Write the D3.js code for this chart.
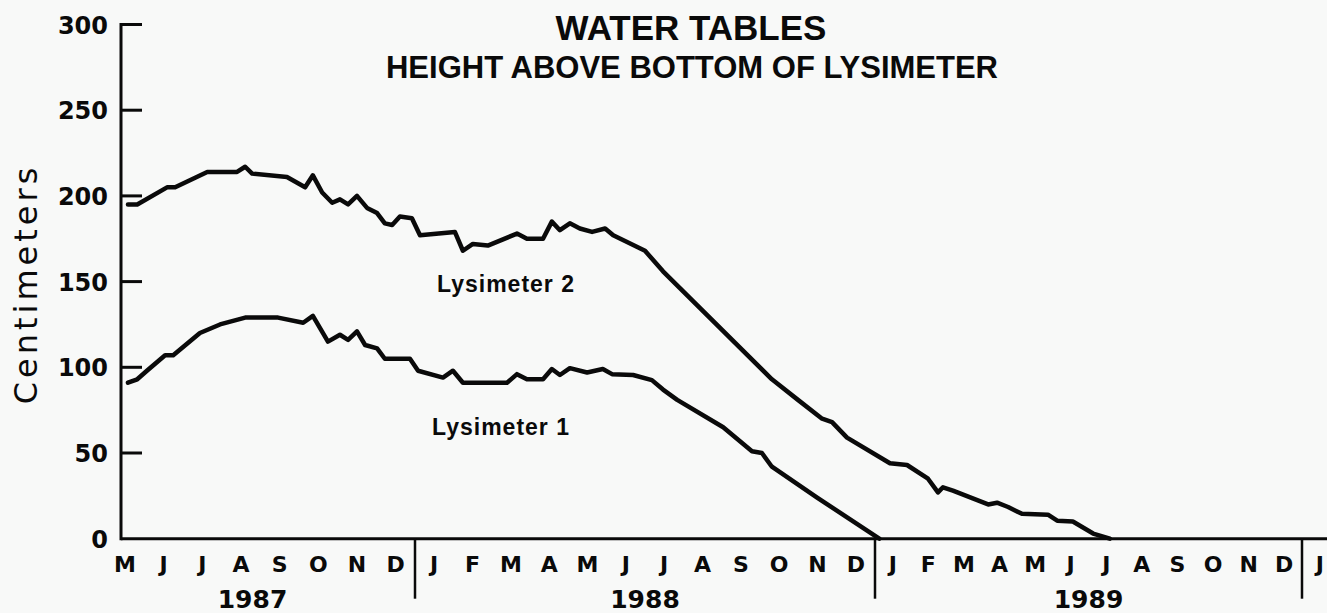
<!DOCTYPE html>
<html>
<head>
<meta charset="utf-8">
<script src="https://cdn.jsdelivr.net/npm/d3@7"></script>
<style>
    body { margin: 0; background: #f8f9f8; }
    svg { display: block; }
</style>
</head>
<body>
<div id="chart-container"></div>
<script>
'use strict'

// months counted from Jan 1987 (0 = Jan 1 1987)
var lys2Month = [4.58, 4.82, 5.59, 5.80, 6.63, 7.40, 7.61, 7.79, 8.69, 9.16, 9.36, 9.60, 9.86, 10.06,
    10.27, 10.50, 10.76, 11.02, 11.22, 11.41, 11.61, 11.92, 12.13, 13.04, 13.25, 13.51, 13.90, 14.66,
    14.92, 15.34, 15.57, 15.78, 16.04, 16.30, 16.62, 16.96, 17.17, 18.00, 18.47, 21.31, 21.99, 22.62,
    22.88, 23.27, 24.42, 24.90, 25.49, 25.77, 25.91, 26.19, 27.18, 27.43, 27.74, 28.13, 28.86, 29.12,
    29.56, 30.13, 30.60]
var lys2Cm = [195, 195, 205, 205, 214, 214, 217, 213, 211, 205, 212, 202, 196, 198,
    195, 200, 193, 190, 184, 183, 188, 187, 177, 179, 168, 172, 171, 178,
    175, 175, 185, 180, 184, 181, 179, 181, 177, 168, 156, 93, 81, 70,
    68, 59, 44, 43, 35, 27, 30, 28, 20, 21, 18.5, 14.5, 14, 10.5,
    10, 3, 0]

var lys1Month = [4.58, 4.82, 5.07, 5.54, 5.75, 6.44, 6.96, 7.61, 8.46, 9.11, 9.36, 9.75, 10.06, 10.27,
    10.50, 10.71, 11.02, 11.22, 11.87, 12.08, 12.73, 12.99, 13.25, 14.40, 14.66, 14.92, 15.34, 15.57,
    15.78, 16.04, 16.49, 16.90, 17.14, 17.69, 18.18, 18.47, 18.84, 20.04, 20.79, 21.05, 21.31, 22.49,
    24.12]
var lys1Cm = [91, 93, 98, 107, 107, 120, 125, 129, 129, 126, 130, 115, 119, 116,
    121, 113, 111, 105, 105, 98, 94, 98, 91, 91, 96, 93, 93, 99,
    95.5, 99.5, 97, 99, 96, 95.5, 92.5, 87, 81, 65, 51, 50, 42, 24,
    0]

var monthLetters = ['J', 'F', 'M', 'A', 'M', 'J', 'J', 'A', 'S', 'O', 'N', 'D']
var years = [1987, 1988, 1989]
var yTicks = [0, 50, 100, 150, 200, 250, 300]

var displayChart = function() {
    let width = 1327
    let height = 613

    let svg = d3.select('#chart-container')
        .append('svg')
            .attr('width', width)
            .attr('height', height)
            .style('background', '#f8f9f8')

    // hand drawn axis: the three years are not quite the same length
    let x = d3.scaleLinear()
        .domain([4.4, 12, 24, 36, 36.7])
        .range([121, 415, 875, 1302, 1327])

    let y = d3.scaleLinear()
        .domain([0, 300])
        .range([538.7, 24.5])

    let ink = '#0a0a0a'

    // y axis
    svg.append('line')
        .attr('x1', x(4.4)).attr('x2', x(4.4))
        .attr('y1', y(300) - 1.5).attr('y2', y(0) + 1.5)
        .attr('stroke', ink).attr('stroke-width', 3)

    svg.selectAll('.ytick').data(yTicks.filter(d => d > 0))
        .enter().append('line')
        .attr('class', 'ytick')
        .attr('x1', x(4.4)).attr('x2', x(4.4) + 21)
        .attr('y1', d => y(d)).attr('y2', d => y(d))
        .attr('stroke', ink).attr('stroke-width', 3)

    svg.selectAll('.ylabel').data(yTicks)
        .enter().append('text')
        .attr('class', 'ylabel')
        .attr('x', 108)
        .attr('y', d => y(d) + 9)
        .attr('text-anchor', 'end')
        .style('font-family', 'DejaVu Sans')
        .style('font-weight', 'bold')
        .style('font-size', '24px')
        .style('fill', ink)
        .text(d => d)

    svg.append('text')
        .attr('transform', 'translate(37,' + 284 + ') rotate(-90)')
        .attr('text-anchor', 'middle')
        .style('font-family', 'DejaVu Sans')
        .style('font-size', '32px')
        .style('letter-spacing', '4px')
        .style('fill', ink)
        .text('Centimeters')

    // x axis
    svg.append('line')
        .attr('x1', x(4.4)).attr('x2', x(36.7))
        .attr('y1', y(0)).attr('y2', y(0))
        .attr('stroke', ink).attr('stroke-width', 3)

    svg.selectAll('.divider').data([12, 24, 36])
        .enter().append('line')
        .attr('class', 'divider')
        .attr('x1', d => x(d)).attr('x2', d => x(d))
        .attr('y1', y(0)).attr('y2', y(0) + 60)
        .attr('stroke', ink).attr('stroke-width', 2.5)

    let months = d3.range(4, 37)
    svg.selectAll('.month').data(months)
        .enter().append('text')
        .attr('class', 'month')
        .attr('x', m => x(m + 0.5))
        .attr('y', 572)
        .attr('text-anchor', 'middle')
        .style('font-family', 'DejaVu Sans')
        .style('font-weight', 'bold')
        .style('font-size', '22px')
        .style('fill', ink)
        .text(m => monthLetters[m % 12])

    svg.selectAll('.year').data(years)
        .enter().append('text')
        .attr('class', 'year')
        .attr('x', (yr, i) => i == 0 ? x(7.8) : x(i * 12 + 6))
        .attr('y', 608)
        .attr('text-anchor', 'middle')
        .style('font-family', 'DejaVu Sans')
        .style('font-weight', 'bold')
        .style('font-size', '25px')
        .style('fill', ink)
        .text(yr => yr)

    // title
    svg.append('text')
        .attr('x', 691).attr('y', 40)
        .attr('text-anchor', 'middle')
        .style('font-family', 'Liberation Sans')
        .style('font-weight', 'bold')
        .style('font-size', '35px')
        .style('fill', ink)
        .text('WATER TABLES')

    svg.append('text')
        .attr('x', 692).attr('y', 78)
        .attr('text-anchor', 'middle')
        .style('font-family', 'Liberation Sans')
        .style('font-weight', 'bold')
        .style('font-size', '31px')
        .style('fill', ink)
        .text('HEIGHT ABOVE BOTTOM OF LYSIMETER')

    // the two water table lines
    let line = d3.line()
        .x(d => x(d[0]))
        .y(d => y(d[1]))

    let series = [
        { name: 'Lysimeter 2', pts: d3.zip(lys2Month, lys2Cm), lx: 506, ly: 292 },
        { name: 'Lysimeter 1', pts: d3.zip(lys1Month, lys1Cm), lx: 501, ly: 435 }
    ]

    svg.selectAll('.series').data(series)
        .enter().append('path')
        .attr('class', 'series')
        .attr('d', s => line(s.pts))
        .attr('fill', 'none')
        .attr('stroke', ink)
        .attr('stroke-width', 4.5)
        .attr('stroke-linejoin', 'round')
        .attr('stroke-linecap', 'round')

    svg.selectAll('.serieslabel').data(series)
        .enter().append('text')
        .attr('class', 'serieslabel')
        .attr('x', s => s.lx)
        .attr('y', s => s.ly)
        .attr('text-anchor', 'middle')
        .style('font-family', 'Liberation Sans')
        .style('font-weight', 'bold')
        .style('font-size', '23px')
        .style('letter-spacing', '1px')
        .style('fill', ink)
        .text(s => s.name)
}

window.onload = function() {
    displayChart()
}
</script>
</body>
</html>
